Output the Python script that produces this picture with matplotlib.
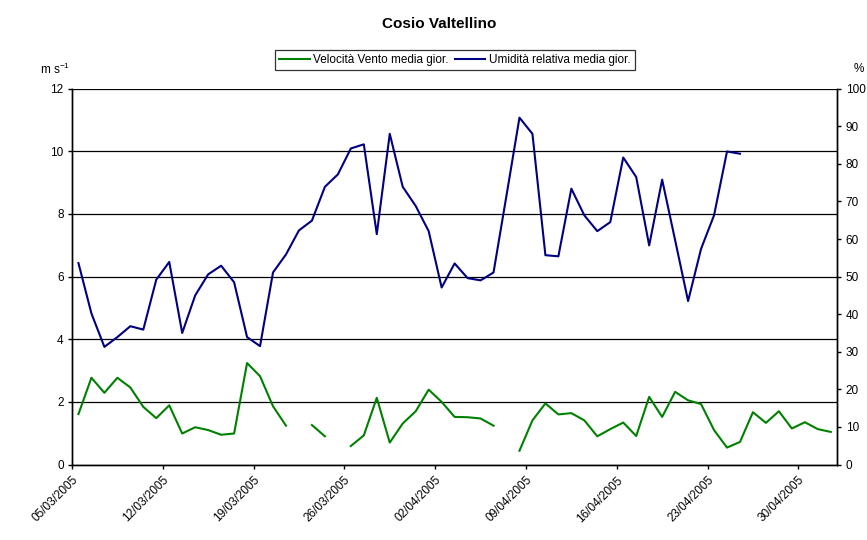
import numpy as np
import pandas as pd
import matplotlib
matplotlib.use("Agg")
import matplotlib.pyplot as plt
import matplotlib.dates as mdates

plt.rcParams['font.family'] = ['Liberation Sans', 'DejaVu Sans']

title = "Cosio Valtellino"
label_wind = "Velocità Vento media gior."
label_hum = "Umidità relativa media gior."
start_date = "2005-03-05"
n_days = 59

wind = [1.61, 2.77, 2.29, 2.77, 2.46, 1.84, 1.48, 1.89, 0.99, 1.19,
        1.10, 0.95, 0.99, 3.24, 2.82, 1.86, 1.24, np.nan, 1.26, 0.90,
        np.nan, 0.59, 0.93, 2.13, 0.70, 1.31, 1.70, 2.39, 2.00, 1.52,
        1.51, 1.47, 1.24, np.nan, 0.44, 1.41, 1.95, 1.60, 1.64, 1.41,
        0.90, 1.13, 1.34, 0.91, 2.16, 1.52, 2.32, 2.05, 1.93, 1.10,
        0.54, 0.72, 1.67, 1.33, 1.70, 1.15, 1.35, 1.13, 1.04]

humidity = [53.6, 40.2, 31.3, 33.9, 36.8, 35.9, 49.2, 53.9, 35.0, 45.0,
            50.6, 52.9, 48.5, 33.9, 31.5, 51.1, 55.9, 62.3, 64.9, 73.9,
            77.2, 84.1, 85.2, 61.3, 88.0, 73.9, 68.8, 62.1, 47.1, 53.5,
            49.6, 49.0, 51.1, 71.6, 92.3, 88.0, 55.7, 55.4, 73.4, 66.3,
            62.1, 64.5, 81.7, 76.5, 58.3, 75.8, 59.7, 43.5, 57.4, 66.3,
            83.3, 82.7, np.nan, np.nan, np.nan, np.nan, np.nan, np.nan, np.nan]

days = pd.date_range(start_date, periods=n_days, freq="D")
x = days + pd.Timedelta(hours=12)

fig = plt.figure(figsize=(8.67, 5.40), dpi=100)
ax = fig.add_axes([0.083, 0.1398, 0.8827, 0.6959])
ax2 = ax.twinx()

lw, = ax.plot(x, wind, color="#008000", lw=1.5, label=label_wind)
lh, = ax2.plot(x, humidity, color="#000080", lw=1.5, label=label_hum)

ax.set_xlim(days[0], days[0] + pd.Timedelta(days=n_days))
ax.set_ylim(0, 12)
ax.set_yticks(np.arange(0, 13, 2))
ax2.set_ylim(0, 100)
ax2.set_yticks(np.arange(0, 101, 10))

ticks = [days[0] + pd.Timedelta(days=7 * k) for k in range(9)]
ax.set_xticks(ticks)
ax.xaxis.set_major_formatter(mdates.DateFormatter("%d/%m/%Y"))
for lab in ax.get_xticklabels():
    lab.set_rotation(45)
    lab.set_ha("right")
    lab.set_va("top")
    lab.set_rotation_mode("anchor")

ax.grid(axis="y", color="#000000", lw=0.9)
ax.set_axisbelow(True)
for a in (ax, ax2):
    a.tick_params(axis="both", labelsize=8.5, length=3, width=1, direction="out", colors="black", pad=3)
    for s in a.spines.values():
        s.set_linewidth(1.0)
        s.set_color("black")
ax.spines["top"].set_visible(False)
ax2.spines["top"].set_visible(False)
ax.spines["bottom"].set_color("#404040")
ax.tick_params(axis="x", pad=4)

fig.text(0.507, 0.955, title, ha="center", va="center", fontsize=11, fontweight="bold")
fig.text(0.046, 0.872, "m s$^{\\mathregular{-1}}$", ha="left", va="center", fontsize=8.5)
fig.text(0.984, 0.872, "%", ha="left", va="center", fontsize=8.5)

leg = fig.legend(handles=[lw, lh], loc="center", bbox_to_anchor=(0.5245, 0.889),
                 ncol=2, fontsize=8.5, frameon=True, fancybox=False,
                 edgecolor="black", handlelength=2.6, handletextpad=0.3,
                 columnspacing=0.5, borderpad=0.35, borderaxespad=0)
leg.get_frame().set_linewidth(0.9)

fig.savefig("out.png", dpi=100)
